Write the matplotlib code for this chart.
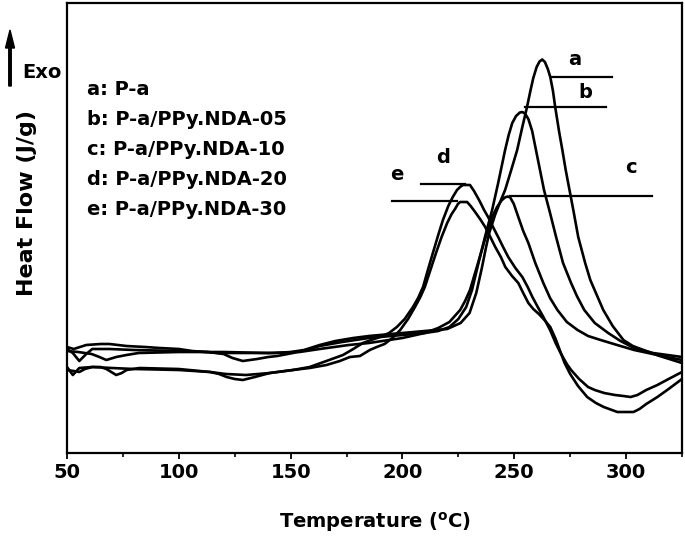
import matplotlib
matplotlib.use("Agg")
import matplotlib.pyplot as plt

plt.rcParams['font.family'] = ['DejaVu Sans']
plt.rcParams['font.weight'] = 'bold'
plt.rcParams['mathtext.fontset'] = 'custom'
plt.rcParams['mathtext.rm'] = 'DejaVu Sans:bold'
plt.rcParams['mathtext.it'] = 'DejaVu Sans:bold'

# ---- data (temperature in °C, heat flow in arbitrary units) ----
T_a = [50, 53, 58.6, 65, 69, 76.6, 85, 91.4, 100, 106, 118, 130, 143, 150, 156, 163, 170, 178, 185, 195,
       205, 215, 220, 226, 230, 233, 235.5, 237.3, 238.8, 241.4, 243.5, 245.9, 248.5, 251.3, 253.5, 255.7,
       257.2, 258.5, 260, 261.3, 262.5, 263.7, 265, 266.1, 267.3, 268.3, 270, 271.5, 273, 274.1, 276.4,
       278.6, 281.7, 284, 286.5, 289.8, 294, 298.8, 303, 307.8, 315, 325]
H_a = [106, 104, 108, 109, 109, 107, 106, 105, 104, 102, 100, 100, 100, 101, 103, 108, 112, 115, 117, 119,
       121, 123, 124, 130, 140, 160, 185, 205, 220, 238, 250, 263, 282, 303, 325, 346,
       362, 375, 386, 391.5, 393.5, 391, 384, 376, 362, 346, 322, 303, 283, 270, 243,
       216, 190, 173, 160, 143, 127, 113, 107, 103, 97, 90]

T_b = [50, 52.6, 55.5, 58.6, 61.3, 69, 80, 100, 113, 120, 124, 128.6, 135, 140, 144, 151, 158.5, 163, 173,
       185, 200, 210, 216, 221, 225, 228.5, 231.1, 234, 236.9, 240.1, 242.8, 245.9, 247.5, 249.1, 250.8,
       252.5, 253.6, 254.8, 256.3, 258, 259.7, 261.5, 263.3, 266, 268.7, 271.8, 275.4, 278, 281.3, 286,
       292, 297.5, 303.6, 312, 325]
H_b = [104, 100, 92, 99, 104, 104, 103, 102, 101, 99, 95, 92, 94, 96, 97, 100, 104, 107, 111,
       115, 118, 120, 122, 126, 134, 146, 163, 190, 216, 243, 270, 303, 318, 330, 337,
       340.5, 341, 339.5, 334, 322, 303, 283, 263, 240, 216, 190, 170, 157, 143, 130,
       120, 112, 105, 100, 96]

T_c = [50, 55, 61, 64.5, 67.6, 72, 76.6, 82, 100, 120, 140, 154, 163, 176, 185, 200, 210, 216, 221,
       225.8, 228, 230.2, 233.8, 236.8, 240.1, 242.3, 244.3, 245.8, 247, 248.2, 249.8, 251.8, 254, 256.3,
       259.4, 263, 266, 269.3, 273.5, 278.3, 283, 288.6, 296, 303.6, 314, 325]
H_c = [102, 101, 99, 96, 93, 96, 98, 100, 101, 101, 100, 101, 104, 108, 110, 115, 120, 125, 131,
       143, 152, 163, 190, 213, 236, 246, 252.5, 255.5, 256.5, 255.5, 249, 236, 222, 210,
       190, 170, 155, 143, 131, 123, 117, 113, 108, 103, 98, 93]

T_d = [50, 52.6, 55.5, 61.3, 70, 80, 100, 114, 121, 130, 140.7, 151, 158.5, 166, 173.4, 178, 182.3, 186,
       190, 194, 197.5, 201, 204.7, 207, 209.2, 211.5, 213.6, 216, 218.1, 220.5, 222.5, 224.4, 226, 227.1,
       230.2, 232, 234.5, 236.5, 238.3, 240.5, 242.8, 245, 247.3, 250.5, 253.6, 256, 258.1, 260.5, 263,
       266, 268.5, 270.7, 273.5, 275.4, 279, 283, 286, 290.2, 295, 298.8, 302, 305.1, 309, 314, 319, 325]
H_d = [86, 78, 85, 86, 85, 84, 83, 81, 79, 78, 80, 83, 86, 92, 98, 104, 110, 113,
       116, 120, 126, 134, 146, 155, 166, 184, 200, 218, 233, 247, 256, 263, 266.5, 268,
       268, 262, 252, 243, 236, 226, 216, 206, 196, 185, 176, 166, 156, 146, 136,
       123, 110, 100, 89, 83, 74, 66, 63, 60, 58, 57, 56, 58, 63, 68, 74, 81]

T_e = [50, 53, 55.5, 58, 61.3, 65, 67.6, 72, 74.5, 76.6, 82.4, 100, 114, 118, 121.4, 125, 128.6, 134,
       140.7, 151, 158.5, 166, 172, 176.5, 181, 185.4, 188.5, 192, 195.5, 199, 202.5, 205.6, 208, 210,
       212.5, 215, 217.5, 220, 222, 223.5, 224.8, 225.8, 228.9, 230.5, 232.5, 235, 237, 239.3, 241.5, 244,
       246, 249, 251.8, 254, 256.3, 258.5, 261, 263.5, 266.1, 268.5, 270.5, 272.5, 275, 278.5, 282.6,
       286.5, 290, 296.1, 300, 303.3, 306, 309, 314, 319, 325]
H_e = [83, 82, 81, 84, 86, 86, 84, 78, 80, 83, 85, 84, 81, 79, 76, 74, 73, 76,
       80, 83, 85, 88, 92, 96, 97, 103, 106, 109, 115, 123, 134, 146, 156, 166,
       183, 200, 216, 230, 239, 244, 249, 251, 251, 247, 241, 233, 226, 216, 206, 196,
       186, 177, 170, 160, 150, 144, 139, 133, 126, 114, 102, 90, 79, 67, 56,
       50, 46, 41, 41, 41, 44, 49, 56, 64, 74]

curve_T = [T_a, T_b, T_c, T_d, T_e]
curve_H = [H_a, H_b, H_c, H_d, H_e]

legend_lines = ["a: P-a", "b: P-a/PPy.NDA-05", "c: P-a/PPy.NDA-10",
                "d: P-a/PPy.NDA-20", "e: P-a/PPy.NDA-30"]
curve_letters = ["a", "b", "c", "d", "e"]
x_ticks = [50, 100, 150, 200, 250, 300]

# ---- layout (annotation positions, not data) ----
leader_x0 = [267, 255, 248, 208.5, 195.5]
leader_x1 = [293.6, 291, 311.5, 228, 224.5]
leader_y = [376, 346, 257, 269, 252]
letter_x = [277, 281.8, 302, 218.2, 197.5]
letter_y = [388, 355, 280, 290, 273]
legend_x = 59.1
legend_y = [358, 328, 298, 268, 238]

W, H = 685, 539
fig = plt.figure(figsize=(W / 100, H / 100), dpi=100)
ax = fig.add_axes([67 / W, 1 - 453 / H, (682 - 67) / W, 450 / H])

for T, Hf in zip(curve_T, curve_H):
    ax.plot(T, Hf, color='black', lw=1.9, solid_joinstyle='round')

for x0, x1, y in zip(leader_x0, leader_x1, leader_y):
    ax.plot([x0, x1], [y, y], color='black', lw=1.6)
for lx, ly, s in zip(letter_x, letter_y, curve_letters):
    ax.text(lx, ly, s, ha='center', va='baseline', fontsize=14, fontweight='bold')
for ly, s in zip(legend_y, legend_lines):
    ax.text(legend_x, ly, s, ha='left', va='baseline', fontsize=14, fontweight='bold')

ax.set_xlim(50, 325)
ax.set_ylim(0, 450)
ax.set_xticks(x_ticks)
ax.set_xticks([75, 125, 175, 225, 275, 325], minor=True)
ax.set_yticks([])
ax.tick_params(axis='x', which='major', direction='out', length=4, width=1.3, pad=3, labelsize=14)
ax.tick_params(axis='x', which='minor', direction='out', length=3, width=1.2)
for lab in ax.get_xticklabels():
    lab.set_fontweight('bold')
for sp in ax.spines.values():
    sp.set_linewidth(1.6)

fig.text(375 / W, 1 - 522 / H, r'Temperature ($\mathrm{^{o}}$C)', ha='center', va='center',
         fontsize=14, fontweight='bold')
fig.text(27 / W, 1 - 203 / H, 'Heat Flow (J/g)', rotation=90, ha='center', va='center',
         fontsize=16, fontweight='bold')
fig.text(22 / W, 1 - 78 / H, 'Exo', ha='left', va='baseline', fontsize=14, fontweight='bold')
fig.patches.append(matplotlib.patches.FancyArrow(
    10 / W, 1 - 86 / H, 0, 56 / H, width=2.5 / W, head_width=9 / W, head_length=18 / H,
    length_includes_head=True, color='black', transform=fig.transFigure, figure=fig))

fig.savefig('out.png', dpi=100)
